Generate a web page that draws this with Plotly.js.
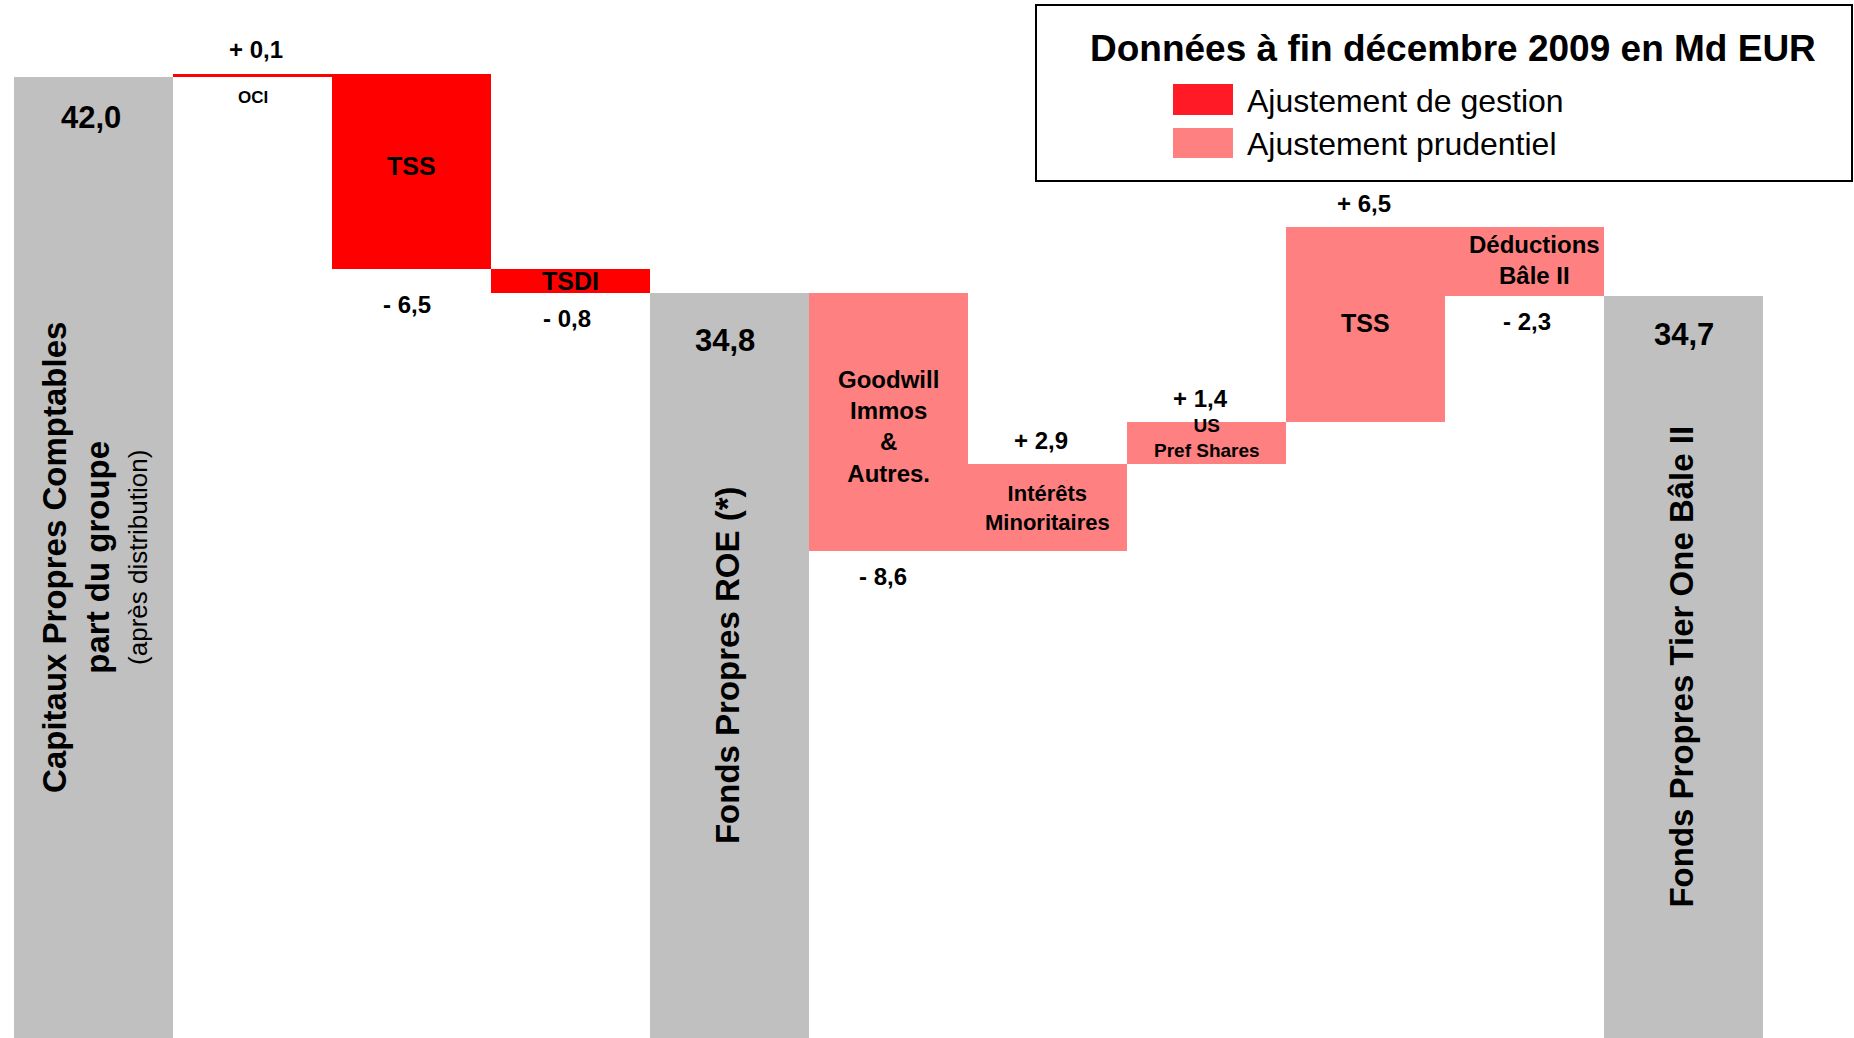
<!DOCTYPE html>
<html>
<head>
<meta charset="utf-8">
<script src="https://cdn.plot.ly/plotly-3.0.1.min.js"></script>
<style>
  html, body { margin: 0; padding: 0; background: #ffffff; }
  #chart { width: 1854px; height: 1038px; }
</style>
</head>
<body>
<div id="chart"></div>
<script>
// Passage des capitaux propres comptables aux fonds propres Tier One (Md EUR, fin 2009)
const categories = ['Capitaux propres', 'OCI', 'TSS gestion', 'TSDI', 'Fonds propres ROE',
  'Goodwill', 'Intérêts minoritaires', 'US Pref Shares', 'TSS prudentiel', 'Déductions Bâle II', 'Tier One Bâle II'];
const stepKinds = ['total', 'gestion', 'gestion', 'gestion', 'total',
  'prudentiel', 'prudentiel', 'prudentiel', 'prudentiel', 'prudentiel', 'total'];
const stepValues = [42.0, 0.1, -6.5, -0.8, 34.8, -8.6, 2.9, 1.4, 6.5, -2.3, 34.7];
const barLabels = ['', 'OCI', 'TSS', 'TSDI', '', 'Goodwill<br>Immos<br>&<br>Autres.',
  'Intérêts<br>Minoritaires', 'US<br>Pref Shares', 'TSS', 'Déductions<br>Bâle II', ''];
const totalTitles = ['Capitaux Propres Comptables<br>part du groupe', 'Fonds Propres ROE (*)', 'Fonds Propres Tier One Bâle II'];
const totalSubtitles = ['(après distribution)', '', ''];
const legendTitle = 'Données à fin décembre 2009 en Md EUR';
const legendNames = ['Ajustement de gestion', 'Ajustement prudentiel'];

// ---- styling ----
const W = 1854, H = 1038;
const M = { l: 14, r: 91, t: 0, b: 0 };
const Y_MIN = 10.0, Y_MAX = 44.56;
const FONT = 'Liberation Sans, Arial, Helvetica, sans-serif';
const kindColors = { total: '#C0C0C0', gestion: '#FF0000', prudentiel: '#FF8080' };
const legendSwatchColors = ['#FF1A25', '#FF8080'];
const innerLabelSizes = [0, 17, 25, 25, 0, 24, 22, 19, 25, 24, 0];
const innerLabelShiftY = [0, -21, 6, 0, 0, -4, 0, 5, 2, 2, 0];
const innerLabelShiftX = [0, 0, 0, 0, 0, 0, 0, 0, 0, 10, 0];
const totalValueShiftY = [-41, -47, -38];
const totalValueShiftX = [-3, -5, 0];
const deltaValueShiftX = [0, 3, -5, -4, 0, -6, -7, -6, -2, 2, 0];

const pxX = p => (p - M.l) / (W - M.l - M.r);
const pxY = p => 1 - (p - M.t) / (H - M.t - M.b);

// French number format: "42,0", "+ 0,1", "- 6,5"
function fmt(v, signed) {
  const s = Math.abs(v).toFixed(1).replace('.', ',');
  if (!signed) return s;
  return (v < 0 ? '- ' : '+ ') + s;
}

// ---- running totals -> bar base / height ----
const bases = [], heights = [];
let running = 0;
stepValues.forEach((v, i) => {
  if (stepKinds[i] === 'total') {
    bases.push(0); heights.push(v); running = v;
  } else {
    bases.push(running); heights.push(v); running += v;
  }
});

const traces = ['total', 'gestion', 'prudentiel'].map(kind => {
  const idx = categories.map((_, i) => i).filter(i => stepKinds[i] === kind);
  return {
    type: 'bar',
    name: kind,
    x: idx.map(i => categories[i]),
    y: idx.map(i => heights[i]),
    base: idx.map(i => bases[i]),
    width: 1,
    marker: { color: kindColors[kind], line: { width: 0 } },
    showlegend: false,
    hoverinfo: 'skip'
  };
});

const annotations = [];
const bold = (size) => ({ family: FONT, size: size, color: '#000000', weight: 700 });

let totalIndex = 0;
categories.forEach((cat, i) => {
  const base = bases[i], h = heights[i];
  const top = Math.max(base, base + h), bottom = Math.min(base, base + h);
  if (stepKinds[i] === 'total') {
    // value near the top of the bar
    annotations.push({ x: cat, y: top, yshift: totalValueShiftY[totalIndex], xshift: totalValueShiftX[totalIndex],
      text: fmt(stepValues[i], false), showarrow: false, yanchor: 'middle', font: bold(31) });
    // vertical title centred in the visible part of the bar
    const t = totalTitles[totalIndex];
    const sub = totalSubtitles[totalIndex];
    const yMid = (top + Y_MIN) / 2;
    annotations.push({ x: cat, y: yMid, text: t, textangle: -90, showarrow: false,
      xshift: sub ? -17 : -2, font: bold(33) });
    if (sub) {
      annotations.push({ x: cat, y: yMid, text: sub, textangle: -90, showarrow: false,
        xshift: 45, font: { family: FONT, size: 26, color: '#000000' } });
    }
    totalIndex++;
  } else {
    // signed variation above (increase) or below (decrease) the block
    if (h > 0) {
      annotations.push({ x: cat, y: top, yshift: 24, xshift: deltaValueShiftX[i], text: fmt(h, true),
        showarrow: false, yanchor: 'middle', font: bold(24) });
    } else {
      annotations.push({ x: cat, y: bottom, yshift: i === 2 ? -35 : -25, xshift: deltaValueShiftX[i],
        text: fmt(h, true), showarrow: false, yanchor: 'middle', font: bold(24) });
    }
    // block name: inside the block, or just below it when the block is too thin
    if (barLabels[i]) {
      const thin = Math.abs(h) < 0.5;
      annotations.push({ x: cat, y: thin ? bottom : base + h / 2, yshift: innerLabelShiftY[i],
        xshift: innerLabelShiftX[i], text: barLabels[i], showarrow: false, yanchor: 'middle',
        font: bold(innerLabelSizes[i]) });
    }
  }
});

// ---- legend box ----
const shapes = [
  { type: 'rect', xref: 'paper', yref: 'paper', x0: pxX(1036), x1: pxX(1852), y0: pxY(181), y1: pxY(5),
    line: { color: '#000000', width: 2 }, fillcolor: '#FFFFFF' }
];
annotations.push({ xref: 'paper', yref: 'paper', x: pxX(1453), y: pxY(48.5), text: legendTitle,
  showarrow: false, xanchor: 'center', yanchor: 'middle', font: bold(37) });
const swatchY = [[84, 115], [128, 158]];
legendNames.forEach((name, k) => {
  shapes.push({ type: 'rect', xref: 'paper', yref: 'paper', x0: pxX(1173), x1: pxX(1233),
    y0: pxY(swatchY[k][1]), y1: pxY(swatchY[k][0]), line: { width: 0 }, fillcolor: legendSwatchColors[k] });
  annotations.push({ xref: 'paper', yref: 'paper', x: pxX(1245), y: pxY((swatchY[k][0] + swatchY[k][1]) / 2 + 1),
    text: name, showarrow: false, xanchor: 'left', yanchor: 'middle',
    font: { family: FONT, size: 32, color: '#000000' } });
});

const layout = {
  width: W, height: H,
  margin: M,
  paper_bgcolor: '#FFFFFF', plot_bgcolor: '#FFFFFF',
  barmode: 'overlay',
  bargap: 0,
  xaxis: { type: 'category', categoryorder: 'array', categoryarray: categories,
    range: [-0.5, categories.length - 0.5], visible: false, fixedrange: true },
  yaxis: { range: [Y_MIN, Y_MAX], visible: false, fixedrange: true },
  shapes: shapes,
  annotations: annotations,
  showlegend: false
};

Plotly.newPlot('chart', traces, layout, { displayModeBar: false, staticPlot: true });
</script>
</body>
</html>
